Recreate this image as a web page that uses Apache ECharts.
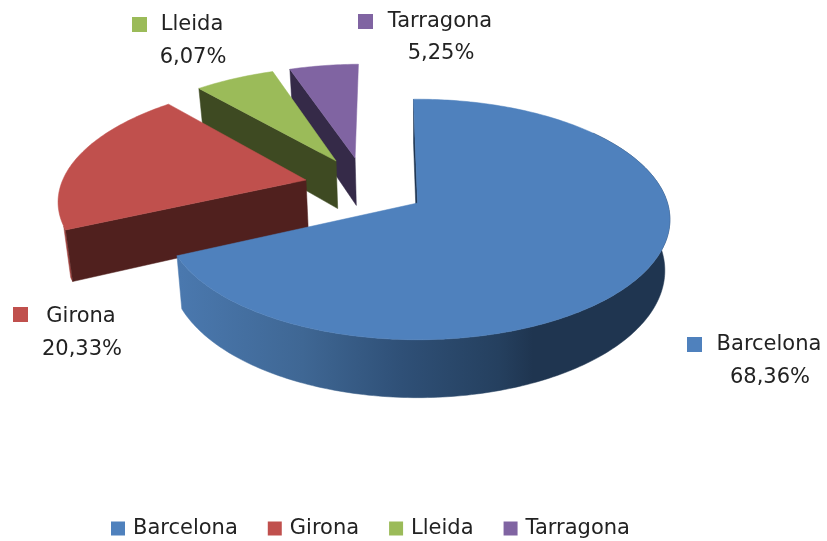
<!DOCTYPE html>
<html>
<head>
<meta charset="utf-8">
<style>
  html, body { margin: 0; background: #fff; }
  #chart { width: 827px; height: 541px; }
</style>
<script src="https://cdn.jsdelivr.net/npm/echarts@6/dist/echarts.min.js"></script>
</head>
<body>
<div id="chart"></div>
<script>
const regions = ['Barcelona', 'Girona', 'Lleida', 'Tarragona'];
const shares = [68.36, 20.33, 6.07, 5.25];

const topColors = ['#4f81bd', '#c0504d', '#9bbb59', '#8064a2'];
const edgeColors = ['#1f3550', '#50201e', '#3e4a22', '#352a48'];
const rimColors = ['#2f5077', '#a04441', '#6f8740', '#5c4876'];
// how far each slice is pulled out of the pie, in pie radii (sideways, towards the viewer)
const explode = [[0.006, 0], [-0.452, -0.2], [-0.336, -0.374], [-0.257, -0.402]];
// part of the outer wall that faces the viewer, in degrees; the back slices show none
const rimLimits = [[50, 300], [0, 247], null, null];

// label layout: swatch x/y, name centre x/y, percent centre x/y
const labelLayout = [
  [687, 337, 769, 345, 770, 378],
  [13, 307, 81, 317, 82, 350],
  [132, 17, 192, 25, 193, 58],
  [358, 14, 440, 22, 441, 54]
];

const textColor = '#222';
const labelFont = '21px "DejaVu Sans"';

// projection of the tilted disk
const cx = 416, cy = 203, rx = 250, ry = 118, persp = 0.137;
const depth = 50, bottomShrink = 0.98;
const startDeg = -1;

const total = shares.reduce((a, b) => a + b, 0);

const project = (u, v, lower) => {
  const s = 1 / (1 - persp * v);
  const x = rx * u * s;
  const y = ry * v * s;
  return lower
    ? [cx + x * bottomShrink, cy + y + depth * s]
    : [cx + x, cy + y];
};

const rimPoint = (deg, off, lower) => {
  const a = deg * Math.PI / 180;
  return project(off[0] + Math.sin(a), off[1] - Math.cos(a), lower);
};

const arcPoints = (from, to, off, lower) => {
  const pts = [];
  for (let d = from; d < to; d += 1) pts.push(rimPoint(d, off, lower));
  pts.push(rimPoint(to, off, lower));
  return pts;
};

const sliceRange = (index) => {
  const before = shares.slice(0, index).reduce((a, b) => a + b, 0);
  return [
    startDeg + before / total * 360,
    startDeg + (before + shares[index]) / total * 360
  ];
};

const blueWall = new echarts.graphic.LinearGradient(180, 0, 670, 0, [
  { offset: 0, color: '#4a78ae' },
  { offset: 0.25, color: '#3f6794' },
  { offset: 0.45, color: '#2f5077' },
  { offset: 0.65, color: '#25405f' },
  { offset: 0.72, color: '#1f3550' },
  { offset: 1, color: '#1f3550' }
], true);

const renderSlice = (index) => (params, api) => {
  const value = api.value(0);
  const [from, to] = sliceRange(index);
  const off = explode[index];
  const apexTop = project(off[0], off[1], false);
  const apexLow = project(off[0], off[1], true);
  const layout = labelLayout[index];
  const top = arcPoints(from, to, off, false);
  const edgeLow = rimPoint(from, off, true);

  const poly = (points, fill) => ({
    type: 'polygon',
    shape: { points },
    style: { fill, stroke: fill, lineWidth: 0.5 }
  });

  const children = [];
  const limit = rimLimits[index];
  if (limit) {
    const a = Math.max(from, limit[0]);
    const b = Math.min(to, limit[1]);
    const rimTop = arcPoints(a, b, off, false);
    const rimLow = arcPoints(a, b, off, true);
    children.push(poly(rimTop.concat(rimLow.reverse()), index === 0 ? blueWall : rimColors[index]));
  }
  children.push(
    poly([apexTop, top[0], edgeLow, apexLow], edgeColors[index]),
    poly([apexTop].concat(top), topColors[index]),
    {
      type: 'rect',
      shape: { x: layout[0], y: layout[1], width: 15, height: 15 },
      style: { fill: topColors[index] }
    },
    {
      type: 'text',
      style: {
        text: regions[index], x: layout[2], y: layout[3], fill: textColor,
        font: labelFont, textAlign: 'center', textVerticalAlign: 'middle'
      }
    },
    {
      type: 'text',
      style: {
        text: value.toFixed(2).replace('.', ',') + '%', x: layout[4], y: layout[5], fill: textColor,
        font: labelFont, textAlign: 'center', textVerticalAlign: 'middle'
      }
    }
  );
  return { type: 'group', children };
};

const chart = echarts.init(document.getElementById('chart'));
chart.setOption({
  animation: false,
  legend: {
    data: regions,
    left: 106,
    top: 513,
    icon: 'rect',
    itemWidth: 14,
    itemHeight: 14,
    itemGap: 30,
    textStyle: { color: textColor, fontFamily: 'DejaVu Sans', fontSize: 21, padding: [0, 0, 0, 3] }
  },
  series: regions.map((name, i) => ({
    name,
    type: 'custom',
    coordinateSystem: 'none',
    silent: true,
    // the big slice overlaps the others, then order falls away towards the back
    z: 10 - i,
    itemStyle: { color: topColors[i] },
    renderItem: renderSlice(i),
    data: [[shares[i]]]
  }))
});
</script>
</body>
</html>
